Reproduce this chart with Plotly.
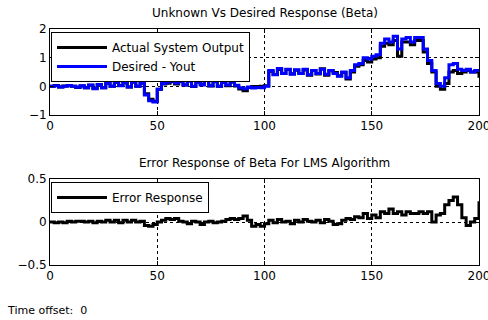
import plotly.graph_objects as go

# time axis (step 2)
t = list(range(0, 201, 2))

desired = [
    0.0, 0.02, -0.02, 0.0, 0.03, 0.0, -0.03, 0.02, -0.05, 0.05,
    -0.08, 0.06, -0.05, 0.12, 0.0, 0.15, 0.02, 0.14, -0.02, 0.16,
    0.0, 0.12, -0.3, -0.5, -0.55, -0.1, 0.1, 0.15, 0.2, 0.12,
    0.18, 0.05, 0.18, 0.0, 0.15, 0.05, 0.2, 0.02, 0.16, 0.0,
    0.14, 0.05, 0.18, 0.04, -0.05, -0.08, -0.02, -0.06, -0.04, -0.05,
    0.0, 0.55, 0.4, 0.62, 0.45, 0.6, 0.42, 0.58, 0.45, 0.6,
    0.4, 0.55, 0.45, 0.6, 0.42, 0.55, 0.45, 0.35, 0.5, 0.3,
    0.55, 0.75, 0.8, 1.0, 0.95, 1.05, 1.1, 1.5, 1.65, 1.55,
    1.75, 1.3, 1.65, 1.7, 1.55, 1.7, 1.7, 1.3, 0.9, 0.55,
    0.1, 0.0, 0.3, 0.75, 0.8, 0.6, 0.55, 0.6, 0.5, 0.55, 0.5,
]

actual = [
    0.0, 0.03, -0.02, 0.01, 0.02, 0.0, -0.04, 0.01, -0.05, 0.04,
    -0.07, 0.05, -0.05, 0.1, 0.0, 0.13, 0.03, 0.12, -0.02, 0.14,
    0.0, 0.11, -0.26, -0.45, -0.52, -0.1, 0.08, 0.11, 0.17, 0.08,
    0.17, 0.05, 0.2, -0.01, 0.15, 0.08, 0.2, 0.01, 0.17, 0.0,
    0.13, 0.02, 0.14, 0.01, -0.09, -0.15, -0.04, -0.01, -0.01, 0.0,
    0.02, 0.53, 0.41, 0.59, 0.45, 0.59, 0.44, 0.56, 0.45, 0.57,
    0.39, 0.55, 0.43, 0.61, 0.39, 0.54, 0.48, 0.37, 0.48, 0.26,
    0.5, 0.7, 0.75, 0.9, 0.85, 0.95, 1.0, 1.4, 1.5, 1.45,
    1.6, 1.05, 1.55, 1.55, 1.45, 1.6, 1.6, 1.2, 0.8, 0.5,
    0.0, -0.1, 0.1, 0.5, 0.55, 0.45, 0.5, 0.55, 0.5, 0.5, 0.3,
]

error = [
    0.0, -0.01, 0.0, -0.01, 0.01, 0.0, 0.01, 0.01, 0.0, 0.01,
    -0.01, 0.01, 0.0, 0.02, 0.0, 0.02, -0.01, 0.02, 0.0, 0.02,
    0.0, 0.01, -0.04, -0.05, -0.03, 0.0, 0.02, 0.04, 0.03, 0.04,
    0.01, 0.0, -0.02, 0.01, 0.0, -0.03, 0.0, 0.01, -0.01, 0.0,
    0.01, 0.03, 0.04, 0.03, 0.04, 0.07, 0.02, -0.05, -0.03, -0.05,
    -0.02, 0.02, -0.01, 0.03, 0.0, 0.01, -0.02, 0.02, 0.0, 0.03,
    0.01, 0.0, 0.02, -0.01, 0.03, 0.01, -0.03, -0.02, 0.02, 0.04,
    0.03, 0.06, 0.05, 0.1, 0.04, 0.08, 0.05, 0.12, 0.1, 0.15,
    0.1, 0.12, 0.08, 0.12, 0.1, 0.1, 0.12, 0.1, 0.12, 0.0,
    0.08, 0.1, 0.2, 0.25, 0.29, 0.2, 0.05, -0.04, 0.0, 0.04, 0.24,
]

x_ticks = [0, 50, 100, 150, 200]
top_yticks = [-1, 0, 1, 2]
bot_yticks = [-0.5, 0, 0.5]

FONT = "DejaVu Sans"
W, H = 488, 320

fig = go.Figure()
fig.add_trace(go.Scatter(x=t, y=actual, mode="lines", line=dict(color="black", width=3, shape="hv"),
                         name="Actual System Output", xaxis="x", yaxis="y", legend="legend"))
fig.add_trace(go.Scatter(x=t, y=desired, mode="lines", line=dict(color="#0000ff", width=3, shape="hv"),
                         name="Desired - Yout", xaxis="x", yaxis="y", legend="legend"))
fig.add_trace(go.Scatter(x=t, y=error, mode="lines", line=dict(color="black", width=3, shape="hv"),
                         name="Error Response", xaxis="x2", yaxis="y2", legend="legend2"))

xl, xr = 50 / W, 479 / W
top_dom = [1 - 115 / H, 1 - 29 / H]
bot_dom = [1 - 265 / H, 1 - 179 / H]

axis_common = dict(showline=True, linecolor="black", linewidth=1, mirror="ticks",
                   ticks="inside", ticklen=4, tickcolor="black",
                   showgrid=True, gridcolor="black", gridwidth=1, griddash="dot",
                   zeroline=False, automargin=False, ticklabeloverflow="allow",
                   tickfont=dict(family=FONT, size=12, color="black"))

fig.update_layout(
    width=W, height=H, margin=dict(l=0, r=0, t=0, b=0),
    paper_bgcolor="white", plot_bgcolor="white",
    font=dict(family=FONT, size=12, color="black"),
    xaxis=dict(domain=[xl, xr], range=[0, 200], tickvals=x_ticks, anchor="y", **axis_common),
    yaxis=dict(domain=top_dom, range=[-1, 2], tickvals=top_yticks, anchor="x", **axis_common),
    xaxis2=dict(domain=[xl, xr], range=[0, 200], tickvals=x_ticks, anchor="y2", **axis_common),
    yaxis2=dict(domain=bot_dom, range=[-0.5, 0.5], tickvals=bot_yticks, anchor="x2", **axis_common),
    legend=dict(x=51 / W, y=1 - 32 / H, xanchor="left", yanchor="top", bgcolor="white",
                bordercolor="black", borderwidth=1, font=dict(family=FONT, size=12), itemwidth=50,
                tracegroupgap=0),
    legend2=dict(x=51 / W, y=1 - 182 / H, xanchor="left", yanchor="top", bgcolor="white",
                 bordercolor="black", borderwidth=1, font=dict(family=FONT, size=12), itemwidth=50),
    annotations=[
        dict(text="Unknown Vs Desired Response (Beta)", x=(xl + xr) / 2, y=1 - 13 / H, xref="paper", yref="paper",
             showarrow=False, xanchor="center", yanchor="middle", font=dict(family=FONT, size=12)),
        dict(text="Error Response of Beta For LMS Algorithm", x=(xl + xr) / 2, y=1 - 163 / H, xref="paper", yref="paper",
             showarrow=False, xanchor="center", yanchor="middle", font=dict(family=FONT, size=12)),
        dict(text="Time offset:&nbsp;&nbsp;0", x=5 / W, y=1 - 310 / H, xref="paper", yref="paper",
             showarrow=False, xanchor="left", yanchor="middle", font=dict(family=FONT, size=11)),
    ],
)

fig.write_html("out.html", config={"displayModeBar": False},
               post_script="document.body.style.margin='0px';")
